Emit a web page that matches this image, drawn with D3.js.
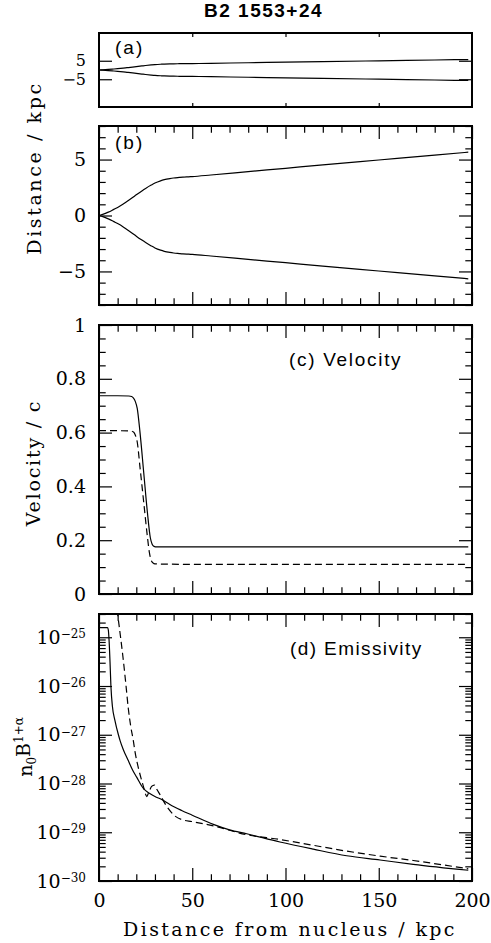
<!DOCTYPE html>
<html>
<head>
<meta charset="utf-8">
<script src="https://cdn.jsdelivr.net/npm/d3@7"></script>
<style>
  body { margin: 0; background: #fff; }
  svg { display: block; }
</style>
</head>
<body>
<div class="canvas"></div>
<script>
// distance along the jet (kpc) and half-width of the jet boundary (kpc)
const widthKpc   = [0, 2, 5, 8, 10, 13, 15, 18, 20, 23, 25, 28, 30, 33, 35, 38, 40, 43, 45, 48, 50, 60, 80, 100, 120, 150, 180, 198];
const widthUpper = [0, 0.1, 0.3, 0.55, 0.72, 1.02, 1.25, 1.6, 1.85, 2.2, 2.42, 2.72, 2.9, 3.1, 3.2, 3.3, 3.35, 3.4, 3.43, 3.46, 3.48, 3.62, 3.92, 4.22, 4.52, 4.96, 5.4, 5.66];
const widthLower = [0, -0.1, -0.3, -0.55, -0.72, -1.02, -1.25, -1.6, -1.85, -2.2, -2.42, -2.72, -2.9, -3.1, -3.2, -3.3, -3.35, -3.4, -3.43, -3.46, -3.48, -3.62, -3.92, -4.22, -4.52, -4.96, -5.4, -5.66];

// velocity / c, solid and dashed models
const velSolidKpc  = [0, 10, 16, 17.5, 18.5, 19.5, 20.5, 22, 24, 26, 27.5, 28.5, 29.5, 31, 35, 60, 100, 150, 198];
const velSolid     = [0.737, 0.737, 0.736, 0.734, 0.728, 0.715, 0.69, 0.6, 0.45, 0.3, 0.21, 0.185, 0.177, 0.175, 0.175, 0.175, 0.175, 0.175, 0.175];
const velDashedKpc = [0, 10, 17, 18.5, 19.5, 20.5, 22, 24, 26, 27, 28, 29, 30, 35, 60, 100, 150, 198];
const velDashed    = [0.607, 0.607, 0.606, 0.602, 0.59, 0.565, 0.47, 0.34, 0.21, 0.155, 0.125, 0.115, 0.112, 0.111, 0.11, 0.11, 0.11, 0.11];

// emissivity n0 B^(1+alpha)
const emSolidKpc  = [0, 4.6, 5.0, 5.4, 5.9, 6.4, 7.2, 8.5, 10.4, 11.3, 13, 15.7, 18, 20.2, 23.8, 27, 30, 33.6, 38, 44.3, 50, 61.3, 70, 79.2, 97, 114.9, 132.8, 150.7, 168.5, 198];
const emSolid     = [1.58e-25, 1.58e-25, 1.41e-25, 8.7e-26, 3.16e-26, 9.8e-27, 3.8e-27, 2.0e-27, 1.0e-27, 7.6e-28, 5.0e-28, 2.95e-28, 1.9e-28, 1.35e-28, 7.9e-29, 6.3e-29, 5.4e-29, 4.7e-29, 3.7e-29, 2.8e-29, 2.24e-29, 1.45e-29, 1.12e-29, 9.3e-30, 6.3e-30, 4.5e-30, 3.3e-30, 2.7e-30, 2.2e-30, 1.66e-30];
const emDashedKpc = [9, 10, 11.5, 13, 14.5, 15.7, 17, 18.4, 19.3, 21.1, 22.5, 23.8, 24.8, 25.6, 26.5, 28.2, 29.7, 31, 32.7, 36.3, 40.8, 45.2, 49.7, 61.3, 79.2, 97, 114.9, 132.8, 150.7, 168.5, 198];
const emDashed    = [6.3e-25, 3.0e-25, 1.05e-25, 3.5e-26, 1.0e-26, 3.5e-27, 1.5e-27, 7.6e-28, 4.5e-28, 2.1e-28, 1.3e-28, 8.7e-29, 6.3e-29, 5.4e-29, 6.3e-29, 8.7e-29, 9.3e-29, 7.6e-29, 5.9e-29, 3.4e-29, 2.14e-29, 1.78e-29, 1.66e-29, 1.35e-29, 8.9e-30, 7.1e-30, 5.4e-30, 4.1e-30, 3.24e-30, 2.63e-30, 1.78e-30];

// tick values
const xMajor = [0, 50, 100, 150, 200];
const xMinor = [10, 20, 30, 40, 60, 70, 80, 90, 110, 120, 130, 140, 160, 170, 180, 190];
const aTicks = [-5, 5];
const bMajor = [-5, 0, 5];
const bMinor = [-8, -7, -6, -4, -3, -2, -1, 1, 2, 3, 4, 6, 7, 8];
const cMajor = [0, 0.2, 0.4, 0.6, 0.8, 1];
const cMinor = [0.05, 0.1, 0.15, 0.25, 0.3, 0.35, 0.45, 0.5, 0.55, 0.65, 0.7, 0.75, 0.85, 0.9, 0.95];
const dMajor = [1e-30, 1e-29, 1e-28, 1e-27, 1e-26, 1e-25];
const dMinor = [];
dMajor.forEach(p => { for (let m = 2; m <= 9; m++) if (m * p <= 3.01e-25) dMinor.push(m * p); });

const dim = {'width': 491, 'height': 943, 'left': 99, 'right': 472};
const frames = {
  a: {'top': 33, 'bottom': 107},
  b: {'top': 126, 'bottom': 305},
  c: {'top': 325, 'bottom': 594},
  d: {'top': 614, 'bottom': 881}
};
const serif = '"DejaVu Serif", serif';
const sans = '"Liberation Sans", Arial, sans-serif';
const bigTick = 13, smallTick = 6.7;

const svg = d3.select('.canvas')
  .append('svg')
  .attr('width', dim.width)
  .attr('height', dim.height);

const x = d3.scaleLinear().domain([0, 200]).range([dim.left, dim.right]);
const ya = d3.scaleLinear().domain([-20, 20]).range([frames.a.bottom, frames.a.top]);
const yb = d3.scaleLinear().domain([-8, 8]).range([frames.b.bottom, frames.b.top]);
const yc = d3.scaleLinear().domain([0, 1]).range([frames.c.bottom, frames.c.top]);
const yd = d3.scaleLog().domain([1e-30, 3e-25]).range([frames.d.bottom, frames.d.top]);

const noLabel = () => '';

// one axis group, domain line removed, ticks styled
const addAxis = (axis, tx, ty, fs) => {
  const g = svg.append('g')
    .attr('class', 'axis')
    .attr('transform', `translate(${tx},${ty})`)
    .call(axis);
  g.select('.domain').remove();
  g.selectAll('.tick line').attr('stroke', '#000').attr('stroke-width', 1.2);
  g.selectAll('.tick text')
    .attr('fill', '#000')
    .attr('font-family', serif)
    .attr('font-size', fs || 19);
  return g;
};

// inward ticks on all four sides of a panel
const panelAxes = (f, y, yMajor, yMinor, xMaj, xMin, xLen, showX, yFormat, fs) => {
  addAxis(d3.axisBottom(x).tickValues(xMaj).tickSize(-xLen).tickPadding(13)
    .tickFormat(showX ? d3.format('d') : noLabel), 0, f.bottom);
  addAxis(d3.axisTop(x).tickValues(xMaj).tickSize(-xLen).tickFormat(noLabel), 0, f.top);
  if (xMin.length) {
    addAxis(d3.axisBottom(x).tickValues(xMin).tickSize(-smallTick).tickFormat(noLabel), 0, f.bottom);
    addAxis(d3.axisTop(x).tickValues(xMin).tickSize(-smallTick).tickFormat(noLabel), 0, f.top);
  }
  const left = addAxis(d3.axisLeft(y).tickValues(yMajor).tickSize(-bigTick).tickPadding(13)
    .tickFormat(yFormat), dim.left, 0, fs);
  addAxis(d3.axisRight(y).tickValues(yMajor).tickSize(-bigTick).tickFormat(noLabel), dim.right, 0);
  if (yMinor.length) {
    addAxis(d3.axisLeft(y).tickValues(yMinor).tickSize(-smallTick).tickFormat(noLabel), dim.left, 0);
    addAxis(d3.axisRight(y).tickValues(yMinor).tickSize(-smallTick).tickFormat(noLabel), dim.right, 0);
  }
  svg.append('rect')
    .attr('x', dim.left).attr('y', f.top)
    .attr('width', dim.right - dim.left).attr('height', f.bottom - f.top)
    .attr('fill', 'none').attr('stroke', '#000').attr('stroke-width', 2);
  return left;
};

panelAxes(frames.a, ya, aTicks, [], [50, 100, 150], [], 4, false, d3.format('d'), 16);
panelAxes(frames.b, yb, bMajor, bMinor, xMajor, xMinor, bigTick, false, d3.format('d'));
panelAxes(frames.c, yc, cMajor, cMinor, xMajor, xMinor, bigTick, false,
  d => (d === 0 || d === 1) ? String(d) : d.toFixed(1));
const dLeft = panelAxes(frames.d, yd, dMajor, dMinor, xMajor, xMinor, bigTick, true, noLabel);

// 10^k labels on the log axis
dLeft.selectAll('.tick text').each(function(d) {
  const t = d3.select(this).text('10');
  t.append('tspan')
    .attr('dy', '-0.45em')
    .attr('font-size', 12)
    .text('\u2212' + Math.round(-Math.log10(d)));
});

// clip paths per panel
const clip = (id, f) => {
  svg.append('clipPath').attr('id', id)
    .append('rect')
    .attr('x', dim.left).attr('y', f.top)
    .attr('width', dim.right - dim.left).attr('height', f.bottom - f.top);
  return `url(#${id})`;
};

const drawLine = (xs, ys, y, clipUrl, dashed) => {
  const line = d3.line()
    .x(d => x(d[0]))
    .y(d => y(d[1]))
    .curve(d3.curveMonotoneX);
  svg.append('path')
    .datum(d3.zip(xs, ys))
    .attr('d', line)
    .attr('fill', 'none')
    .attr('stroke', '#000')
    .attr('stroke-width', 1.2)
    .attr('stroke-dasharray', dashed ? '7,4' : null)
    .attr('clip-path', clipUrl);
};

const clipA = clip('clipA', frames.a);
const clipB = clip('clipB', frames.b);
const clipC = clip('clipC', frames.c);
const clipD = clip('clipD', frames.d);

drawLine(widthKpc, widthUpper, ya, clipA, false);
drawLine(widthKpc, widthLower, ya, clipA, false);
drawLine(widthKpc, widthUpper, yb, clipB, false);
drawLine(widthKpc, widthLower, yb, clipB, false);
drawLine(velSolidKpc, velSolid, yc, clipC, false);
drawLine(velDashedKpc, velDashed, yc, clipC, true);
drawLine(emSolidKpc, emSolid, yd, clipD, false);
drawLine(emDashedKpc, emDashed, yd, clipD, true);

// title and panel labels (letter-spacing widens them like the original lettering)
svg.append('text')
  .attr('x', 204).attr('y', 17)
  .attr('font-family', sans).attr('font-weight', 'bold').attr('font-size', 19)
  .attr('letter-spacing', 1.5)
  .text('B2 1553+24');

const panelText = [
  {'t': '(a)', 'x': 115, 'y': 54, 'ls': 2},
  {'t': '(b)', 'x': 115, 'y': 149, 'ls': 2},
  {'t': '(c) Velocity', 'x': 289, 'y': 366, 'ls': 1.7},
  {'t': '(d) Emissivity', 'x': 290, 'y': 655, 'ls': 1.4}
];
svg.selectAll('.plabel').data(panelText).enter().append('text')
  .attr('class', 'plabel')
  .attr('x', d => d.x).attr('y', d => d.y)
  .attr('font-family', sans).attr('font-size', 19)
  .attr('letter-spacing', d => d.ls)
  .text(d => d.t);

// axis titles
svg.append('text')
  .attr('x', 290).attr('y', 936)
  .attr('text-anchor', 'middle')
  .attr('font-family', serif).attr('font-size', 19)
  .attr('letter-spacing', 2.4)
  .text('Distance from nucleus / kpc');

const yTitle = (txt, cx, cy, ls) => svg.append('text')
  .attr('transform', `translate(${cx},${cy}) rotate(-90)`)
  .attr('text-anchor', 'middle')
  .attr('font-family', serif).attr('font-size', 19)
  .attr('letter-spacing', ls)
  .text(txt);

yTitle('Distance / kpc', 41, 168, 2.6);
yTitle('Velocity / c', 40, 463, 1.8);

const em = svg.append('text')
  .attr('transform', 'translate(32,747) rotate(-90)')
  .attr('text-anchor', 'middle')
  .attr('font-family', serif).attr('font-size', 19);
em.append('tspan').text('n');
em.append('tspan').attr('dy', '0.35em').attr('font-size', 12).text('0');
em.append('tspan').attr('dy', '-0.35em').text('B');
em.append('tspan').attr('dy', '-0.55em').attr('font-size', 12).text('1+\u03b1');
</script>
</body>
</html>
